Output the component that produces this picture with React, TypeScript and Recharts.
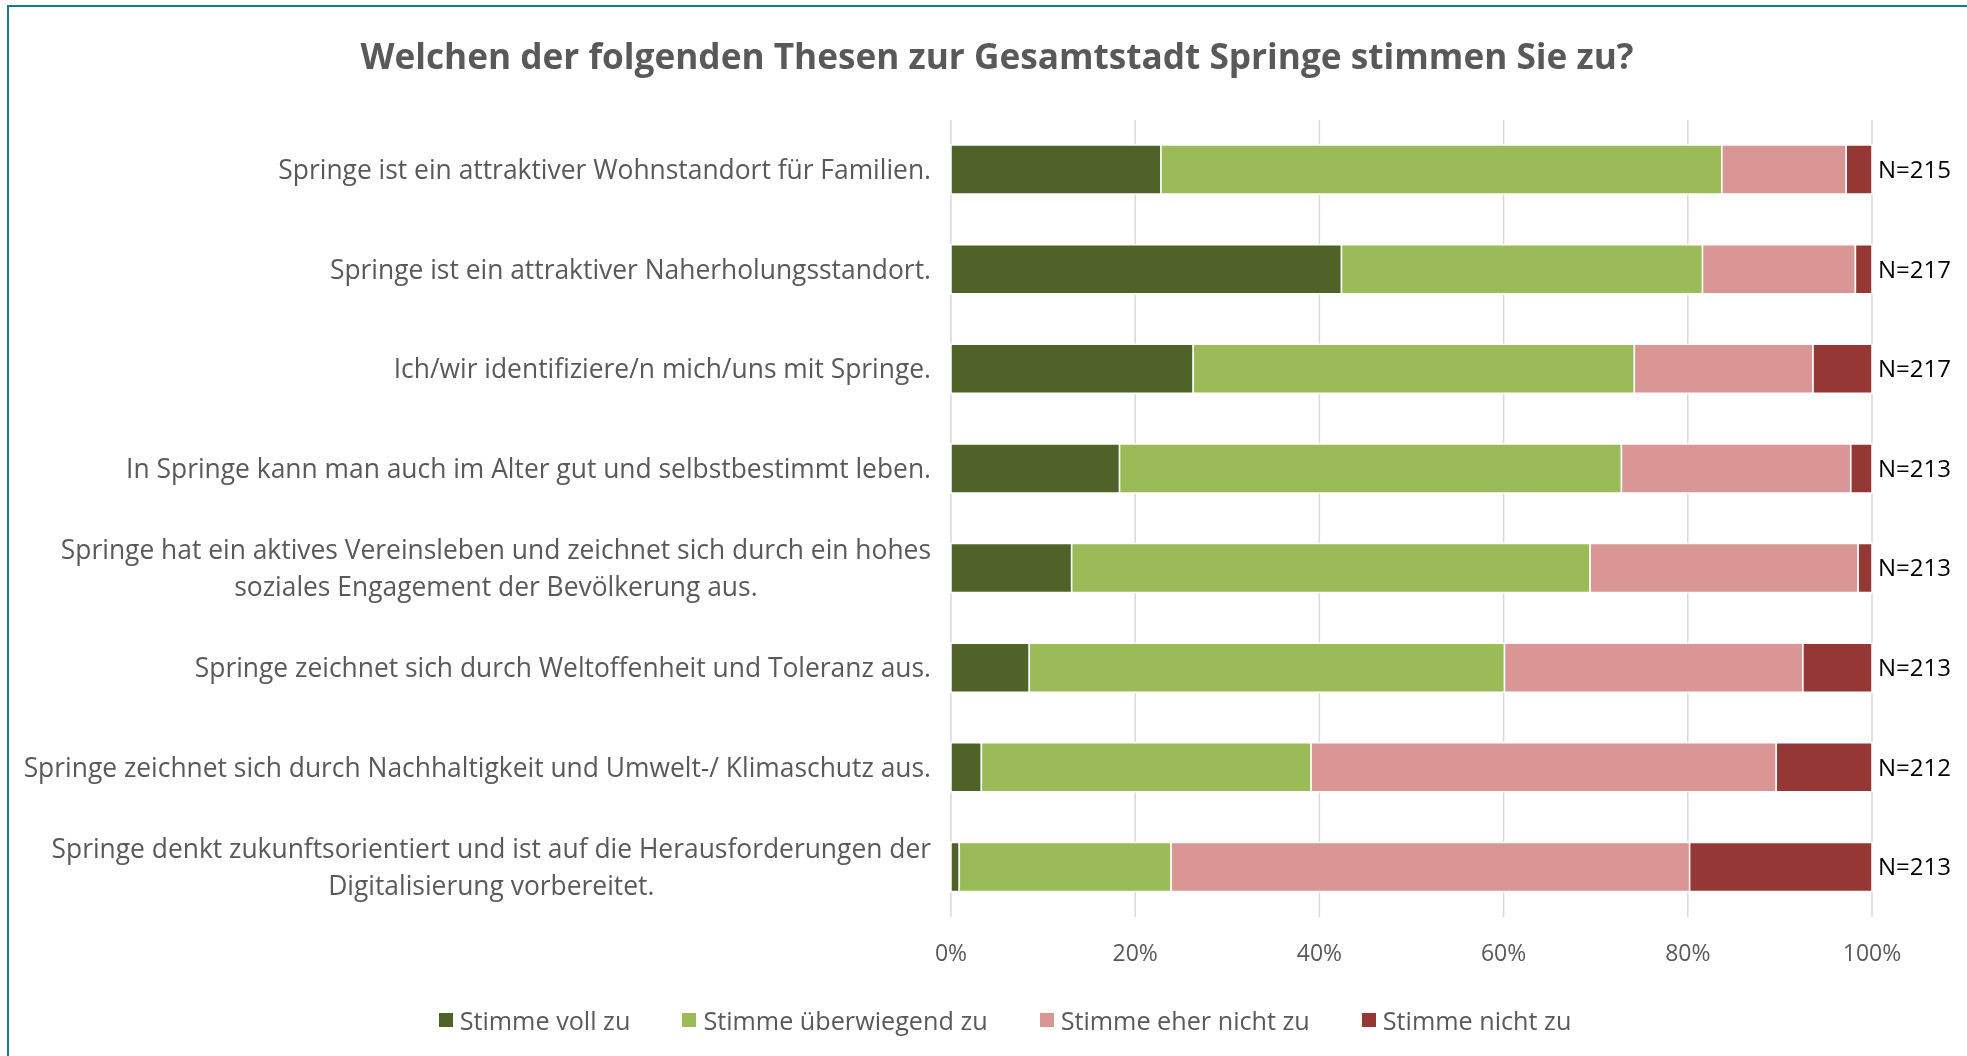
import React from "react";
import {
  BarChart,
  Bar,
  XAxis,
  YAxis,
  CartesianGrid,
  Legend,
  LabelList,
} from "recharts";

const CATEGORIES = [
  "Springe ist ein attraktiver Wohnstandort für Familien.",
  "Springe ist ein attraktiver Naherholungsstandort.",
  "Ich/wir identifiziere/n mich/uns mit Springe.",
  "In Springe kann man auch im Alter gut und selbstbestimmt leben.",
  "Springe hat ein aktives Vereinsleben und zeichnet sich durch ein hohes\nsoziales Engagement der Bevölkerung aus.",
  "Springe zeichnet sich durch Weltoffenheit und Toleranz aus.",
  "Springe zeichnet sich durch Nachhaltigkeit und Umwelt-/ Klimaschutz aus.",
  "Springe denkt zukunftsorientiert und ist auf die Herausforderungen der\nDigitalisierung vorbereitet.",
];

const VOLL = [22.8, 42.4, 26.3, 18.3, 13.1, 8.5, 3.3, 0.9];
const UEBERWIEGEND = [60.9, 39.2, 47.9, 54.5, 56.3, 51.6, 35.8, 23.0];
const EHER_NICHT = [13.5, 16.6, 19.4, 24.9, 29.1, 32.4, 50.5, 56.3];
const NICHT = [2.8, 1.8, 6.4, 2.3, 1.5, 7.5, 10.4, 19.8];
const N_VALUES = [215, 217, 217, 213, 213, 213, 212, 213];

const TICKS = [0, 20, 40, 60, 80, 100];

const SERIES = [
  { key: "voll", name: "Stimme voll zu", color: "#4F6228" },
  { key: "ueberwiegend", name: "Stimme überwiegend zu", color: "#9BBB59" },
  { key: "eherNicht", name: "Stimme eher nicht zu", color: "#D99694" },
  { key: "nicht", name: "Stimme nicht zu", color: "#953735" },
];

const data = CATEGORIES.map((c, i) => ({
  cat: c,
  voll: VOLL[i],
  ueberwiegend: UEBERWIEGEND[i],
  eherNicht: EHER_NICHT[i],
  nicht: NICHT[i],
  n: N_VALUES[i],
}));

const FONT = '"Open Sans", sans-serif';
const GREY = "#595959";
const LABEL_SIZE = 26.4;

let ctx: CanvasRenderingContext2D | null = null;
function textWidth(s: string) {
  if (!ctx) ctx = document.createElement("canvas").getContext("2d");
  if (!ctx) return s.length * LABEL_SIZE * 0.5;
  ctx.font = `${LABEL_SIZE}px "Open Sans"`;
  return ctx.measureText(s).width;
}

function CategoryTick({ x, y, payload }: any) {
  const lines = String(payload.value).split("\n");
  if (lines.length === 1) {
    return (
      <text x={x} y={y} dy="0.35em" textAnchor="end" fill={GREY} fontSize={LABEL_SIZE} fontFamily={FONT}>
        {lines[0]}
      </text>
    );
  }
  const maxW = Math.max(...lines.map(textWidth));
  const cx = x - maxW / 2;
  const lh = 37.6;
  const start = y - ((lines.length - 1) * lh) / 2;
  return (
    <text textAnchor="middle" fill={GREY} fontSize={LABEL_SIZE} fontFamily={FONT}>
      {lines.map((l, i) => (
        <tspan key={i} x={cx} y={start + i * lh} dy="0.35em">
          {l}
        </tspan>
      ))}
    </text>
  );
}

function NLabel({ x, y, width, height, value }: any) {
  return (
    <text
      x={Number(x) + Number(width) + 6}
      y={Number(y) + Number(height) / 2}
      dy="0.35em"
      fill="#000"
      fontSize={24}
      fontFamily={FONT}
    >
      N={value}
    </text>
  );
}

function LegendContent() {
  return (
    <div
      style={{
        display: "flex",
        justifyContent: "center",
        alignItems: "center",
        height: 40,
        gap: 52,
        fontFamily: FONT,
        fontSize: 25.2,
        color: GREY,
      }}
    >
      {SERIES.map((s) => (
        <div key={s.key} style={{ display: "flex", alignItems: "center" }}>
          <span style={{ width: 14, height: 14, background: s.color, marginRight: 7, display: "inline-block" }} />
          <span>{s.name}</span>
        </div>
      ))}
    </div>
  );
}

export default function App() {
  return (
    <>
      <div
        style={{
          position: "fixed",
          left: 7,
          top: 5,
          width: 2100,
          height: 1200,
          borderLeft: "2px solid #17788F",
          borderTop: "2px solid #17788F",
        }}
      />
      <div
        style={{
          position: "fixed",
          left: 0,
          top: 35,
          width: 1994,
          textAlign: "center",
          fontFamily: FONT,
          fontWeight: 700,
          fontSize: 35.2,
          lineHeight: "40px",
          color: GREY,
        }}
      >
        Welchen der folgenden Thesen zur Gesamtstadt Springe stimmen Sie zu?
      </div>
      <div style={{ position: "fixed", left: 0, top: 0 }}>
        <BarChart
          width={1967}
          height={1056}
          data={data}
          layout="vertical"
          barSize={49}
          margin={{ top: 120, right: 95, left: 0, bottom: 49 }}
        >
          <CartesianGrid horizontal={false} stroke="#D9D9D9" strokeWidth={1.5} />
          <XAxis
            type="number"
            domain={[0, 100]}
            ticks={TICKS}
            tickFormatter={(v) => `${v}%`}
            axisLine={false}
            tickLine={false}
            tickMargin={22}
            height={50}
            tick={{ fill: GREY, fontSize: 23, fontFamily: FONT }}
          />
          <YAxis
            type="category"
            dataKey="cat"
            width={951}
            axisLine={false}
            tickLine={false}
            tickMargin={14}
            interval={0}
            tick={<CategoryTick />}
          />
          <Legend
            verticalAlign="bottom"
            content={<LegendContent />}
            wrapperStyle={{ top: 1000, bottom: "auto", left: 0, width: 2010 }}
          />
          {SERIES.map((s, i) => (
            <Bar
              key={s.key}
              dataKey={s.key}
              name={s.name}
              stackId="a"
              fill={s.color}
              stroke="#fff"
              strokeWidth={1.5}
              isAnimationActive={false}
            >
              {i === SERIES.length - 1 && <LabelList dataKey="n" content={<NLabel />} />}
            </Bar>
          ))}
        </BarChart>
      </div>
    </>
  );
}
